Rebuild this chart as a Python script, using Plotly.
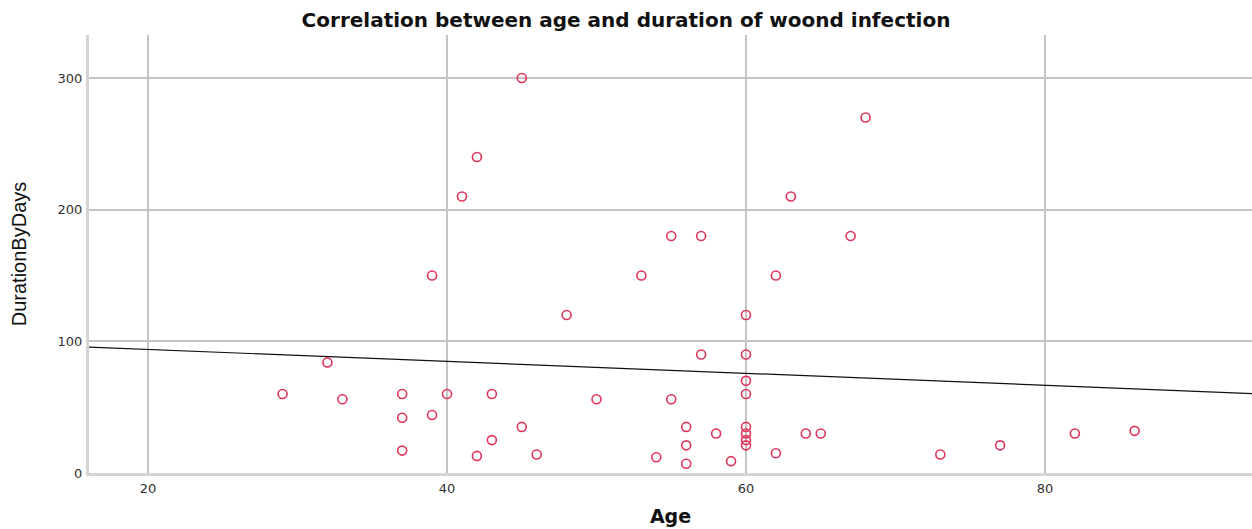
import numpy as np
import plotly.graph_objects as go

age = [45, 68, 42, 41, 63, 55, 57, 67, 39, 53, 62, 48, 60, 57, 60, 32, 60,
       29, 37, 40, 43, 60, 33, 50, 55, 39, 37, 45, 56, 60, 86, 58, 60, 64,
       65, 82, 43, 60, 56, 60, 77, 37, 62, 46, 73, 42, 54, 59, 56]
duration = [300, 270, 240, 210, 210, 180, 180, 180, 150, 150, 150, 120, 120,
            90, 90, 84, 70, 60, 60, 60, 60, 60, 56, 56, 56, 44, 42, 35, 35,
            35, 32, 30, 30, 30, 30, 30, 25, 25, 21, 21, 21, 17, 15, 14, 14,
            13, 12, 9, 7]

x_ticks = [20, 40, 60, 80]
y_ticks = [0, 100, 200, 300]
x_range = [16.05, 93.85]
y_range = [0, 332.7]

slope, intercept = np.polyfit(age, duration, 1)
fit_x = np.array(x_range)
fit_y = slope * fit_x + intercept

fig = go.Figure()
fig.add_trace(go.Scatter(
    x=fit_x, y=fit_y, mode="lines",
    line=dict(color="#111111", width=1.2), hoverinfo="skip", showlegend=False))
fig.add_trace(go.Scatter(
    x=age, y=duration, mode="markers",
    marker=dict(symbol="circle-open", size=9, color="#e0345a",
                line=dict(width=1.6, color="#e0345a")),
    showlegend=False))

tickfont = dict(family="DejaVu Sans", size=13, color="#333333")
fig.update_layout(
    width=1252, height=529,
    margin=dict(l=89, r=0, t=35, b=56),
    paper_bgcolor="white", plot_bgcolor="white",
    title=dict(text="<b>Correlation between age and duration of woond infection</b>",
               x=0.5, xanchor="center", y=0.963, yanchor="middle",
               font=dict(family="DejaVu Sans", size=20, color="#111111")),
    xaxis=dict(range=x_range, tickvals=x_ticks, showgrid=True,
               gridcolor="#c4c4c4", gridwidth=1.5, zeroline=False,
               showline=True, linecolor="#d4d4d4", linewidth=3,
               ticks="", tickfont=tickfont, ticklabelstandoff=1,
               title=dict(text="<b>Age</b>", standoff=16,
                          font=dict(family="DejaVu Sans", size=19, color="#111111"))),
    yaxis=dict(range=y_range, tickvals=y_ticks, showgrid=True,
               gridcolor="#c4c4c4", gridwidth=1.5, zeroline=False,
               showline=True, linecolor="#d4d4d4", linewidth=3,
               ticks="", tickfont=tickfont, ticklabelstandoff=1,
               title=dict(text="DurationByDays", standoff=26,
                          font=dict(family="Liberation Sans Narrow, Arial Narrow, Liberation Sans", size=20, color="#111111"))),
)

fig.write_html("out.html")
